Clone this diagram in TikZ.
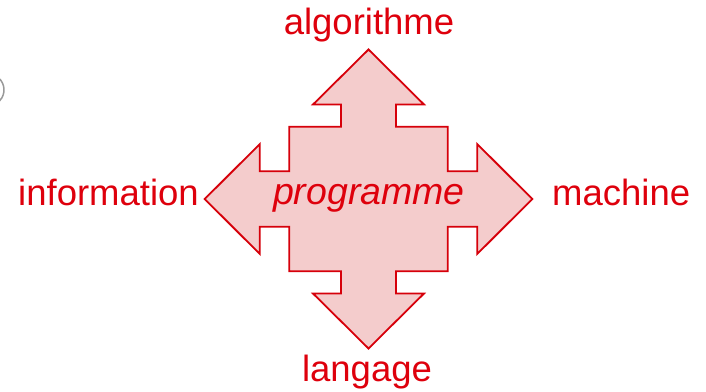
\documentclass[tikz,border=0pt]{standalone}
\usepackage{fontspec}
\setmainfont{Liberation Sans}
\definecolor{linered}{RGB}{214,0,10}
\definecolor{textred}{RGB}{222,0,12}
\definecolor{pinkfill}{RGB}{244,204,204}
\begin{document}
\begin{tikzpicture}[x=1pt,y=-1pt,
  label/.style={text=textred,font=\fontsize{36.5}{36.5}\selectfont,inner sep=0pt},
  cross/.style={draw=linered,fill=pinkfill,line width=1.8pt,line join=miter}]
\useasboundingbox (0,0) rectangle (706,391);
% clipped bracket at the left edge
\draw[gray!80,line width=1.5pt] (-4,76) arc[start angle=-60,end angle=60,radius=16];
% four-way arrow
\begin{scope}[shift={(368.5,199)}]
\draw[cross]
  (0,-149.5) -- (55.5,-94.5) -- (27.5,-94.5) -- (27.5,-72.2) -- (79.2,-72.2)
  -- (79.2,-27.8) -- (108.7,-27.8) -- (108.7,-55) -- (163.8,0)
  -- (108.7,55) -- (108.7,27.8) -- (79.2,27.8) -- (79.2,72.2)
  -- (27.5,72.2) -- (27.5,94.5) -- (55.5,94.5) -- (0,149.5)
  -- (-55.5,94.5) -- (-27.5,94.5) -- (-27.5,72.2) -- (-79.2,72.2)
  -- (-79.2,27.8) -- (-108.7,27.8) -- (-108.7,55) -- (-163.8,0)
  -- (-108.7,-55) -- (-108.7,-27.8) -- (-79.2,-27.8) -- (-79.2,-72.2)
  -- (-27.5,-72.2) -- (-27.5,-94.5) -- (-55.5,-94.5) -- cycle;
\end{scope}
\node[label,anchor=base,font=\fontsize{37.5}{37.5}\selectfont\itshape] (prog) at (369,204) {programme};
\node[label,anchor=base] (algo) at (369,34) {algorithme};
\node[label,anchor=base] (lang) at (367,381) {langage};
\node[label,anchor=base east] (info) at (199,205) {information};
\node[label,anchor=base west] (mach) at (552,205) {machine};
\end{tikzpicture}
\end{document}
